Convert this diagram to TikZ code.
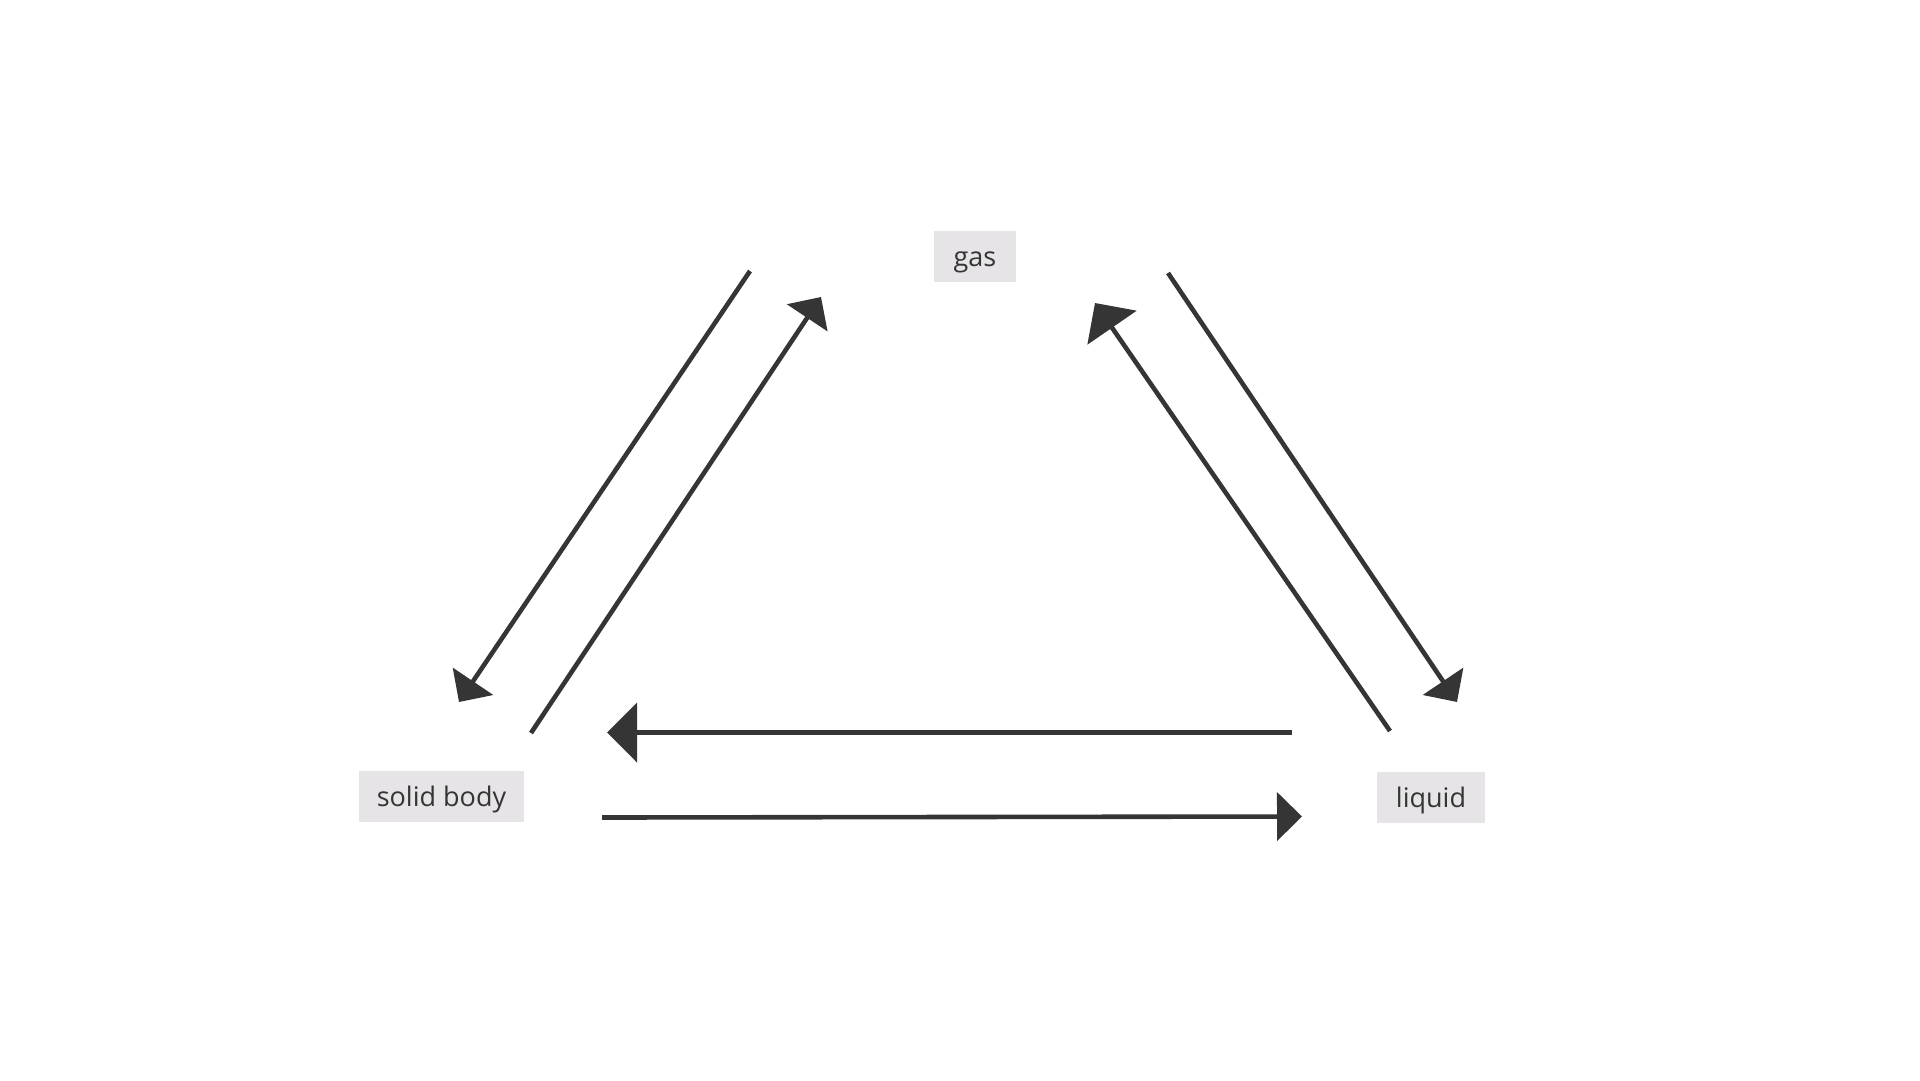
\documentclass[tikz,border=0pt]{standalone}
\usepackage{fontspec}
\setmainfont{Open Sans}
\usetikzlibrary{arrows.meta}
\definecolor{ink}{HTML}{353535}
\definecolor{boxfill}{HTML}{E6E4E6}
\begin{document}
\begin{tikzpicture}[x=1pt,y=-1pt,
  statebox/.style={fill=boxfill,draw=none,inner sep=0pt,text=ink,
    text height=20pt,text depth=0pt,
    font=\fontsize{27}{30}\selectfont},
  conn/.style={draw=ink,line width=4.6pt},
  smalltip/.style={-{Triangle[length=25pt,width=48pt,color=ink]}},
  bigtip/.style={-{Triangle[length=30pt,width=59pt,color=ink]}}]
\useasboundingbox[fill=white] (0,0) rectangle (1920,1080);
\node[statebox,minimum width=82pt,minimum height=51pt] (gas) at (975,256.5) {gas};
\node[statebox,minimum width=165pt,minimum height=51pt] (solid) at (441.5,796.5) {solid body};
\node[statebox,minimum width=108pt,minimum height=51pt] (liquid) at (1431,797.5) {liquid};
% endpoints
\coordinate (a1s) at (750,271);   \coordinate (a1e) at (459,702);
\coordinate (a2s) at (531,733);   \coordinate (a2e) at (821,297);
\coordinate (a3s) at (1168,273);  \coordinate (a3e) at (1457,702);
\coordinate (a4s) at (1390,731);  \coordinate (a4e) at (1095,303);
\coordinate (a5s) at (1292,732.5);\coordinate (a5e) at (607,732.5);
\coordinate (a6s) at (602,817.5); \coordinate (a6e) at (1302,816.5);
\draw[conn,smalltip] (a1s) -- (a1e);
\draw[conn,smalltip] (a2s) -- (a2e);
\draw[conn,smalltip] (a3s) -- (a3e);
\draw[conn,bigtip] (a4s) -- (a4e);
\draw[conn,bigtip] (a5s) -- (a5e);
\draw[conn,smalltip] (a6s) -- (a6e);
\end{tikzpicture}
\end{document}
